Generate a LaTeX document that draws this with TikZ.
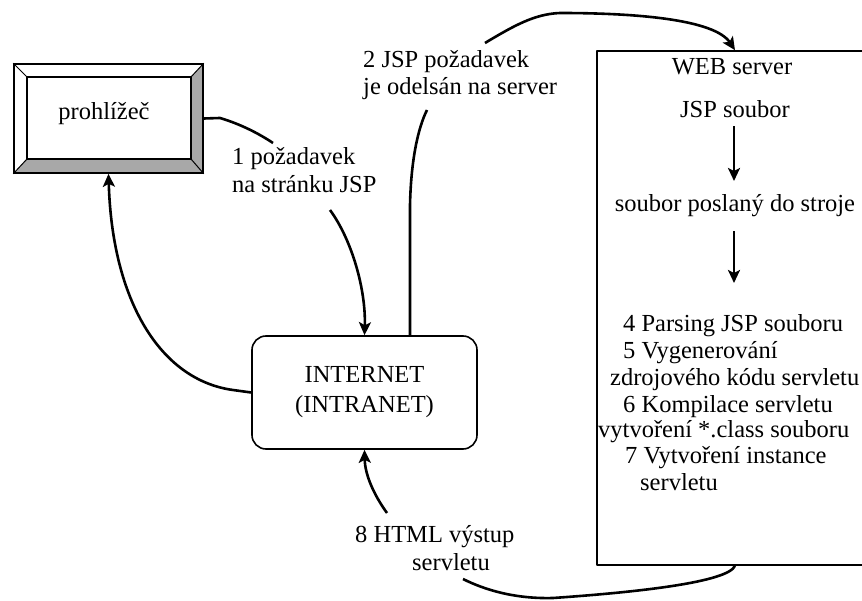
\documentclass[tikz,border=0pt]{standalone}
\usepackage{fontspec}
\setmainfont{Liberation Serif}
\usetikzlibrary{arrows.meta,calc}
\definecolor{bevel}{RGB}{168,168,168}
\begin{document}
\begin{tikzpicture}[x=1pt,y=-1pt, line join=round,
  txt/.style={font=\fontsize{24.5}{27}\selectfont, inner sep=0pt, anchor=base west},
  ctxt/.style={font=\fontsize{24.5}{27}\selectfont, inner sep=0pt, anchor=base},
  conn/.style={line width=2.6pt},
  arr/.style={conn,-{Stealth[length=13pt,width=12pt,inset=3pt]}},
  boxline/.style={line width=1.6pt}]
\useasboundingbox (0,0) rectangle (862,601);

% --- browser (bevelled frame)
\fill[bevel] (203,64) -- (191,77) -- (191,159) -- (203,173) -- cycle;
\fill[bevel] (14,173) -- (27,159) -- (191,159) -- (203,173) -- cycle;
\node[draw, boxline, minimum width=189pt, minimum height=109pt, inner sep=0pt] (br) at (108.5,118.5) {};
\draw[boxline] (27,77) rectangle (191,159);
\draw[line width=1pt] (br.north west) -- (27,77) (br.north east) -- (191,77)
  (br.south west) -- (27,159) (br.south east) -- (191,159);
\node[ctxt] (brtxt) at (104,120) {prohlížeč};

% --- internet
\node[draw, boxline, rounded corners=14pt, minimum width=225pt, minimum height=113pt,
  align=center, font=\fontsize{24.5}{30}\selectfont] (int) at (364.5,392.5) {INTERNET\\(INTRANET)};

% --- web server
\node[draw, boxline, minimum width=300pt, minimum height=514pt, inner sep=0pt] (srv) at (747,308) {};
\node[ctxt] (web) at (732,75) {WEB server};
\node[ctxt] (jsp) at (735,118) {JSP soubor};
\node[ctxt] (posl) at (735,212) {soubor poslaný do stroje};
\node[txt] (p4) at (623,332) {4 Parsing JSP souboru};
\node[txt] (p5a) at (623,359) {5 Vygenerování};
\node[txt] (p5b) at (610,385) {zdrojového kódu servletu};
\node[txt] (p6a) at (623,412) {6 Kompilace servletu};
\node[txt] (p6b) at (598,437) {vytvoření *.class souboru};
\node[txt] (p7a) at (625,463) {7 Vytvoření instance};
\node[txt] (p7b) at (640,490) {servletu};
\draw[arr] (jsp.south -| 734,0) ++(0,8) -- (734,181);
\draw[arr] (posl.south -| 734,0) ++(0,14) -- (734,283);

% --- labels
\node[txt] (l1a) at (232,165) {1 požadavek};
\node[txt] (l1b) at (232,193) {na stránku JSP};
\node[txt] (l2a) at (363,68) {2 JSP požadavek};
\node[txt] (l2b) at (363,95) {je odelsán na server};
\node[txt] (l8a) at (355,542) {8 HTML výstup};
\node[txt] (l8b) at (412,570) {servletu};

\coordinate (c1) at (273,143);
\coordinate (c1b) at (330,210);
\coordinate (c2) at (427,110);
\coordinate (c3) at (485,43);
\coordinate (c8) at (463,579);
\coordinate (c8b) at (387,513);

% --- connectors
\draw[conn] (br.east) -- (220,118) .. controls (240,124) and (258,133) .. (c1);
\draw[arr] (c1b) .. controls (352,240) and (366,290) .. (int.north);
\draw[conn] (int.north -| 410,0) -- (410,205) .. controls (411,160) and (418,128) .. (c2);
\draw[arr] (c3) .. controls (515,25) and (535,14) .. (560,13)
  .. controls (640,13) and (715,20) .. (srv.north -| 735,0);
\draw[conn] (srv.south -| 735,0) .. controls (728,582) and (640,592) .. (553,598)
  .. controls (515,599) and (485,590) .. (c8);
\draw[arr] (c8b) .. controls (374,495) and (365,475) .. (int.south);
\draw[arr] (int.west) -- (233,390) .. controls (160,380) and (112,300) .. (br.south);
\end{tikzpicture}
\end{document}
